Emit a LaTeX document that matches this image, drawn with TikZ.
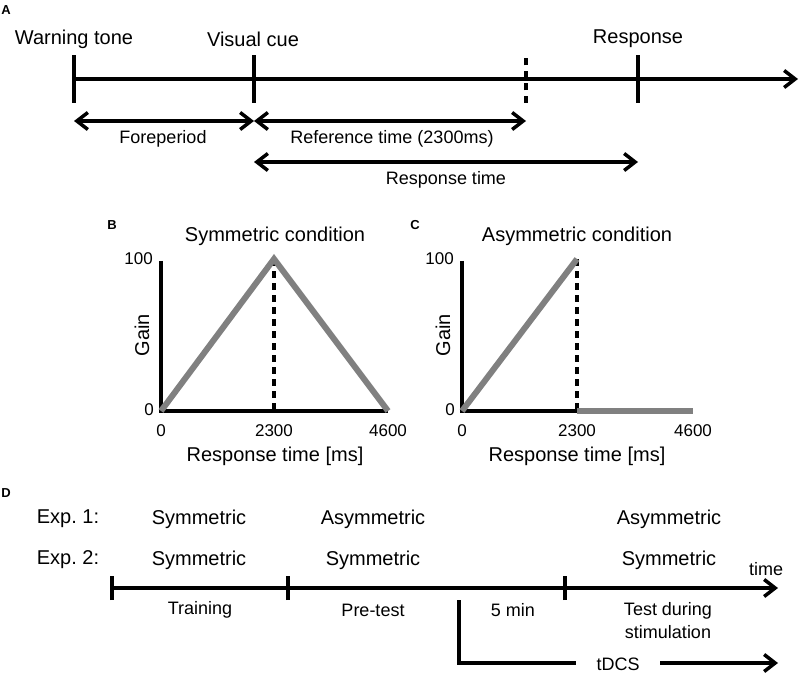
\documentclass[tikz,border=0pt]{standalone}
\usepackage{fontspec}
\setmainfont{Liberation Sans}
\usetikzlibrary{arrows.meta}
\tikzset{
  hdr/.style={font=\fontsize{20}{24}\selectfont, inner sep=0pt},
  lbl/.style={font=\fontsize{18}{22}\selectfont, inner sep=0pt},
  tck/.style={font=\fontsize{17}{20}\selectfont, inner sep=0pt},
  panel/.style={font=\fontsize{13}{15}\selectfont\bfseries, inner sep=0pt},
  axis/.style={line width=3.5pt, black},
  tickln/.style={line width=3.5pt, black},
  dashln/.style={line width=3.5pt, black, dash pattern=on 7pt off 5pt},
  grayln/.style={line width=6pt, color={rgb,255:red,128;green,128;blue,128}},
  arr/.style={line width=3.5pt, -{Straight Barb[length=11pt,width=17pt,line width=3.5pt]}},
  darr/.style={line width=3.5pt, {Straight Barb[length=11pt,width=17pt,line width=3.5pt]}-{Straight Barb[length=11pt,width=17pt,line width=3.5pt]}},
}
\begin{document}
\begin{tikzpicture}[x=1pt,y=-1pt]
\useasboundingbox (0,0) rectangle (800,690);
% ---------------- Panel A
\node[panel] (pA) at (6,10) {A};
\node[hdr] (wt) at (74,39) {Warning tone};
\node[hdr] (vc) at (253,39) {Visual cue};
\node[hdr] (rs) at (638,39) {Response};
\coordinate (a0) at (74,79);
\coordinate (a1) at (254,79);
\coordinate (a2) at (526,79);
\coordinate (a3) at (638,79);
\coordinate (aend) at (798,79);
\draw[arr] (a0) -- (aend);
\draw[tickln] ([yshift=-24pt]a0) -- ([yshift=24pt]a0);
\draw[tickln] ([yshift=-24pt]a1) -- ([yshift=24pt]a1);
\draw[tickln] ([yshift=-24pt]a3) -- ([yshift=24pt]a3);
\draw[line width=3.5pt, dash pattern=on 7pt off 5.5pt] ([yshift=-24pt]a2) -- ([yshift=24pt]a2);
\coordinate (f0) at (74,121);
\coordinate (f1) at (254,121);
\coordinate (f2) at (526,121);
\coordinate (r0) at (254,162);
\coordinate (r1) at (638,162);
\draw[darr] (f0) -- (f1);
\draw[darr] (f1) -- (f2);
\draw[darr] (r0) -- (r1);
\node[lbl] (fp) at (163,139) {Foreperiod};
\node[lbl] (rt) at (392,139) {Reference time (2300ms)};
\node[lbl] (rpt) at (446,180) {Response time};
% ---------------- Panel B
\node[panel] (pB) at (112,225) {B};
\node[hdr] (tB) at (275,236) {Symmetric condition};
\coordinate (b00) at (161,411);
\coordinate (b0t) at (161,259);
\coordinate (bmid) at (274,411);
\coordinate (bpk) at (274,259);
\coordinate (bend) at (388,411);
\draw[axis] ([yshift=-1.75pt]b0t) -- (b00) -- (bend);
\draw[dashln] (bpk) -- (bmid);
\draw[grayln, line join=miter, line cap=butt] (b00) -- (bpk) -- (bend);
\node[tck, anchor=east] (b100) at (153,259) {100};
\node[tck, anchor=east] (by0) at (154,410) {0};
\node[tck] (bx0) at (161,431) {0};
\node[tck] (bx1) at (274,431) {2300};
\node[tck] (bx2) at (388,431) {4600};
\node[hdr] (bxl) at (275,456) {Response time [ms]};
\node[hdr, rotate=90] (byl) at (142,335) {Gain};
% ---------------- Panel C
\node[panel] (pC) at (415,225) {C};
\node[hdr] (tC) at (577,236) {Asymmetric condition};
\coordinate (c00) at (462,411);
\coordinate (c0t) at (462,259);
\coordinate (cmid) at (577,411);
\coordinate (cpk) at (577,259);
\coordinate (cend) at (693,411);
\draw[axis] ([yshift=-1.75pt]c0t) -- (c00) -- (cmid);
\draw[dashln] (cpk) -- (cmid);
\draw[grayln, line cap=butt] (c00) -- (cpk);
\draw[grayln, line cap=butt] (cmid) -- (cend);
\node[tck, anchor=east] (c100) at (454,259) {100};
\node[tck, anchor=east] (cy0) at (455,410) {0};
\node[tck] (cx0) at (462,431) {0};
\node[tck] (cx1) at (577,431) {2300};
\node[tck] (cx2) at (693,431) {4600};
\node[hdr] (cxl) at (577,456) {Response time [ms]};
\node[hdr, rotate=90] (cyl) at (443,335) {Gain};
% ---------------- Panel D
\node[panel] (pD) at (6,493) {D};
\node[hdr] (e1) at (68,519) {Exp.\ 1:};
\node[hdr] (e2) at (68,560) {Exp.\ 2:};
\node[hdr] (e1a) at (199,519) {Symmetric};
\node[hdr] (e2a) at (199,560) {Symmetric};
\node[hdr] (e1b) at (373,519) {Asymmetric};
\node[hdr] (e2b) at (373,560) {Symmetric};
\node[hdr] (e1c) at (669,519) {Asymmetric};
\node[hdr] (e2c) at (669,560) {Symmetric};
\node[lbl] (tm) at (766,569) {time};
\coordinate (d0) at (112,588);
\coordinate (d1) at (288,588);
\coordinate (d2) at (459,588);
\coordinate (d3) at (565,588);
\coordinate (dend) at (778,588);
\draw[arr] (d0) -- (dend);
\draw[tickln] ([yshift=-12pt]d0) -- ([yshift=12pt]d0);
\draw[tickln] ([yshift=-12pt]d1) -- ([yshift=12pt]d1);
\draw[tickln] ([yshift=-12pt]d3) -- ([yshift=12pt]d3);
\coordinate (tc) at (459,663);
\coordinate (tl) at (576,663);
\coordinate (ts) at (660,663);
\coordinate (te) at (778,663);
\draw[tickln, line join=miter] ([yshift=-12pt]d2) -- (tc) -- (tl);
\draw[arr] (ts) -- (te);
\node[lbl] (tdcs) at (618,664) {tDCS};
\node[lbl] (tr) at (200,610) {Training};
\node[lbl] (pt) at (373,610) {Pre-test};
\node[lbl] (fm) at (513,610) {5 min};
\node[lbl, align=center, font=\fontsize{18}{23}\selectfont] (tds) at (668,621) {Test during\\stimulation};
\end{tikzpicture}
\end{document}
